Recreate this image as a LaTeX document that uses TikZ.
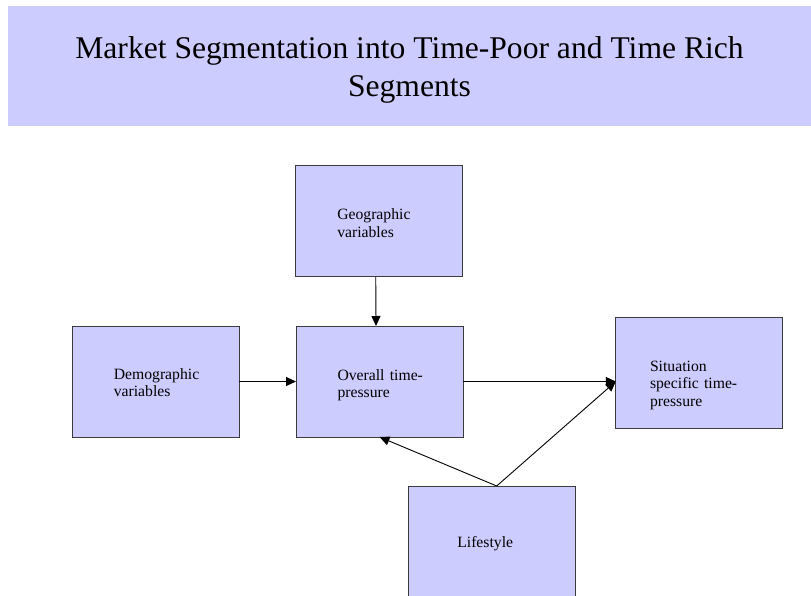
\documentclass[tikz,border=0pt]{standalone}
\usepackage{fontspec}
\setmainfont{Liberation Serif}
\usetikzlibrary{arrows.meta}
\definecolor{boxfill}{HTML}{CCCCFF}
\definecolor{boxline}{HTML}{3C3C3C}
\begin{document}
\begin{tikzpicture}[x=1pt,y=-1pt,
  banner/.style={fill=boxfill, draw=none, minimum width=803pt, minimum height=120pt,
    inner sep=0pt, outer sep=0pt, align=center,
    font=\fontsize{31.6}{38.3}\selectfont},
  box/.style={fill=boxfill, draw=boxline, line width=1pt, minimum width=167pt,
    minimum height=111pt, inner sep=0pt, outer sep=0pt, align=left,
    font=\fontsize{15.7}{17.5}\selectfont},
  arr/.style={draw=black, line width=0.9pt, -{Triangle[length=10pt,width=9pt]}}]
\useasboundingbox (0,0) rectangle (811,596);
\node[banner] (title) at (409.5,66) {\rule{0pt}{29.8pt}Market Segmentation into Time-Poor and Time Rich\\Segments};
\node[box, text width=84pt] (geo) at (379.25,221.25) {\rule{0pt}{15pt}Geographic\\variables};
\node[box, text width=84pt] (over) at (379.5,381.5) {\rule{0pt}{18.5pt}\mbox{Overall time-}\\pressure};
\node[box, text width=84pt] (dem) at (155.8,381.5) {\rule{0pt}{13.1pt}\mbox{Demographic}\\variables};
\node[box, text width=98.5pt] (sit) at (699.25,373.4) {\rule{0pt}{33.6pt}Situation\\\mbox{specific time-}\\pressure};
\node[box, text width=68.8pt] (life) at (491.7,541.5) {\rule{0pt}{14.4pt}Lifestyle};
\coordinate (sitin) at (sit.west |- over.east);
\draw[arr] ([xshift=-3.5pt]geo.south) -- ([xshift=-3.5pt]over.north);
\draw[arr] (dem.east) -- (over.west);
\draw[arr] (over.east) -- (sitin);
\draw[arr] ([xshift=5pt]life.north) -- (over.south);
\draw[arr] ([xshift=5pt]life.north) -- (sitin);
\end{tikzpicture}
\end{document}
